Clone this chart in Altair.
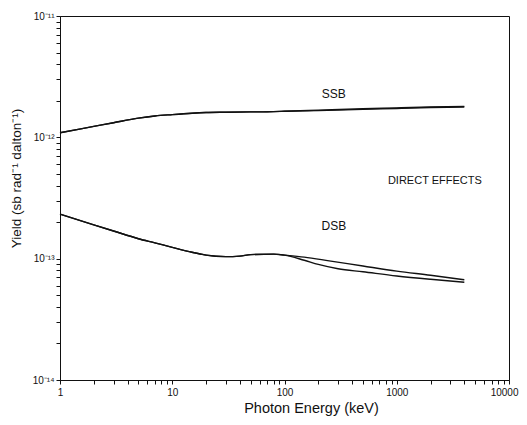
import altair as alt
import pandas as pd
import math

# ---- data ----
ssb_energy = [1, 2, 3, 5, 7, 10, 15, 20, 30, 50, 80, 100, 200, 500, 1000, 2000, 4000]
ssb_a = [1.09e-12, 1.23e-12, 1.32e-12, 1.44e-12, 1.50e-12, 1.54e-12, 1.58e-12, 1.60e-12,
         1.61e-12, 1.62e-12, 1.63e-12, 1.64e-12, 1.66e-12, 1.70e-12, 1.73e-12, 1.76e-12, 1.78e-12]
ssb_b = [1.09e-12, 1.23e-12, 1.32e-12, 1.44e-12, 1.50e-12, 1.54e-12, 1.58e-12, 1.60e-12,
         1.61e-12, 1.62e-12, 1.63e-12, 1.64e-12, 1.675e-12, 1.72e-12, 1.75e-12, 1.78e-12, 1.80e-12]

dsb_common_energy = [1, 2, 3, 5, 7, 10, 15, 20, 30, 40, 50, 80, 100]
dsb_common = [2.33e-13, 1.90e-13, 1.69e-13, 1.46e-13, 1.35e-13, 1.24e-13, 1.13e-13, 1.07e-13,
              1.04e-13, 1.05e-13, 1.08e-13, 1.09e-13, 1.07e-13]
dsb_upper_energy = [150, 250, 500, 1000, 2000, 4000]
dsb_upper = [1.03e-13, 9.6e-14, 8.7e-14, 7.9e-14, 7.3e-14, 6.7e-14]
dsb_lower_energy = [150, 200, 300, 500, 1000, 2000, 4000]
dsb_lower = [9.7e-14, 8.97e-14, 8.26e-14, 7.8e-14, 7.2e-14, 6.76e-14, 6.4e-14]

x_major = [1, 10, 100, 1000, 10000]
x_major_labels = ["1", "10", "100", "1000", "10000"]
y_major = [1e-14, 1e-13, 1e-12, 1e-11]
y_major_labels = ["10⁻¹⁴", "10⁻¹³", "10⁻¹²", "10⁻¹¹"]

label_text = ["SSB", "DSB"]
label_x = [275, 275]
label_y = [2.28e-12, 1.86e-13]
note_text = ["DIRECT EFFECTS"]
note_x = [834]
note_y = [4.37e-13]

# ---- build tables ----
rows = []
for e, v in zip(ssb_energy, ssb_a):
    rows.append(("SSB a", e, v))
for e, v in zip(ssb_energy, ssb_b):
    rows.append(("SSB b", e, v))
for e, v in zip(dsb_common_energy + dsb_upper_energy, dsb_common + dsb_upper):
    rows.append(("DSB upper", e, v))
for e, v in zip(dsb_common_energy + dsb_lower_energy, dsb_common + dsb_lower):
    rows.append(("DSB lower", e, v))
df = pd.DataFrame(rows, columns=["series", "energy", "yield"])

labels = pd.DataFrame({"text": label_text, "x": label_x, "y": label_y})
notes = pd.DataFrame({"text": note_text, "x": note_x, "y": note_y})

x_ticks = [m * 10 ** k for k in range(0, 4) for m in range(1, 10)] + [10000]
y_ticks = [m * 10.0 ** k for k in range(-14, -11) for m in range(1, 10)] + [1e-11]

lg = "(log(datum.value)/LN10)"


def label_expr(values, texts):
    expr = "''"
    for v, t in zip(values, texts):
        e = round(math.log10(v))
        expr = f"abs({lg} - ({e})) < 0.001 ? '{t}' : " + expr
    return expr


x_expr = label_expr(x_major, x_major_labels)
y_expr = label_expr(y_major, y_major_labels)

FONT = "Liberation Sans"

xscale = alt.Scale(type="log", domain=[1, 10000], nice=False)
yscale = alt.Scale(type="log", domain=[1e-14, 1e-11], nice=False)

lines = alt.Chart(df).mark_line(color="#111111", strokeWidth=1.4, interpolate="monotone").encode(
    x=alt.X("energy:Q", scale=xscale,
            axis=alt.Axis(title="Photon Energy (keV)", values=x_ticks, labelExpr=x_expr,
                          grid=False, tickSize=4, labelPadding=3, labelFontSize=10,
                          labelFont=FONT, labelColor="#111", titleFont=FONT,
                          titleFontSize=14.5, titleFontWeight="normal", titleColor="#111",
                          titleX=251, titleY=21, titleBaseline="top",
                          labelAlign={"condition": {"test": "datum.value >= 9999", "value": "right"},
                                      "value": "center"},
                          labelOffset={"condition": {"test": "datum.value >= 9999", "value": 9},
                                       "value": 0},
                          domainColor="#111", tickColor="#111", labelFlush=False)),
    y=alt.Y("yield:Q", scale=yscale,
            axis=alt.Axis(title="Yield (sb rad⁻¹ dalton⁻¹)", values=y_ticks, labelExpr=y_expr,
                          grid=False, tickSize=4, labelPadding=2, labelFontSize=10,
                          labelFont=FONT, labelColor="#111", titleFont=FONT,
                          titleFontSize=13.5, titleFontWeight="normal", titleColor="#111",
                          titleX=-37, titleY=162, titleAngle=270, titleAlign="center",
                          titleBaseline="bottom",
                          domainColor="#111", tickColor="#111", labelFlush=False)),
    detail="series:N",
)

text1 = alt.Chart(labels).mark_text(font=FONT, fontSize=12, color="#111", align="center",
                                    baseline="middle").encode(
    x=alt.X("x:Q", scale=xscale), y=alt.Y("y:Q", scale=yscale), text="text:N")
text2 = alt.Chart(notes).mark_text(font=FONT, fontSize=11, color="#111", align="left",
                                   baseline="middle").encode(
    x=alt.X("x:Q", scale=xscale), y=alt.Y("y:Q", scale=yscale), text="text:N")

chart = alt.layer(lines, text1, text2).properties(
    width=449, height=364,
    autosize=alt.AutoSizeParams(type="none"),
    padding={"left": 52, "top": 8, "right": 10, "bottom": 37},
    background="white",
).configure_view(stroke="#111", strokeWidth=1)

chart.save("out.html", embed_options={"renderer": "svg", "actions": False})
